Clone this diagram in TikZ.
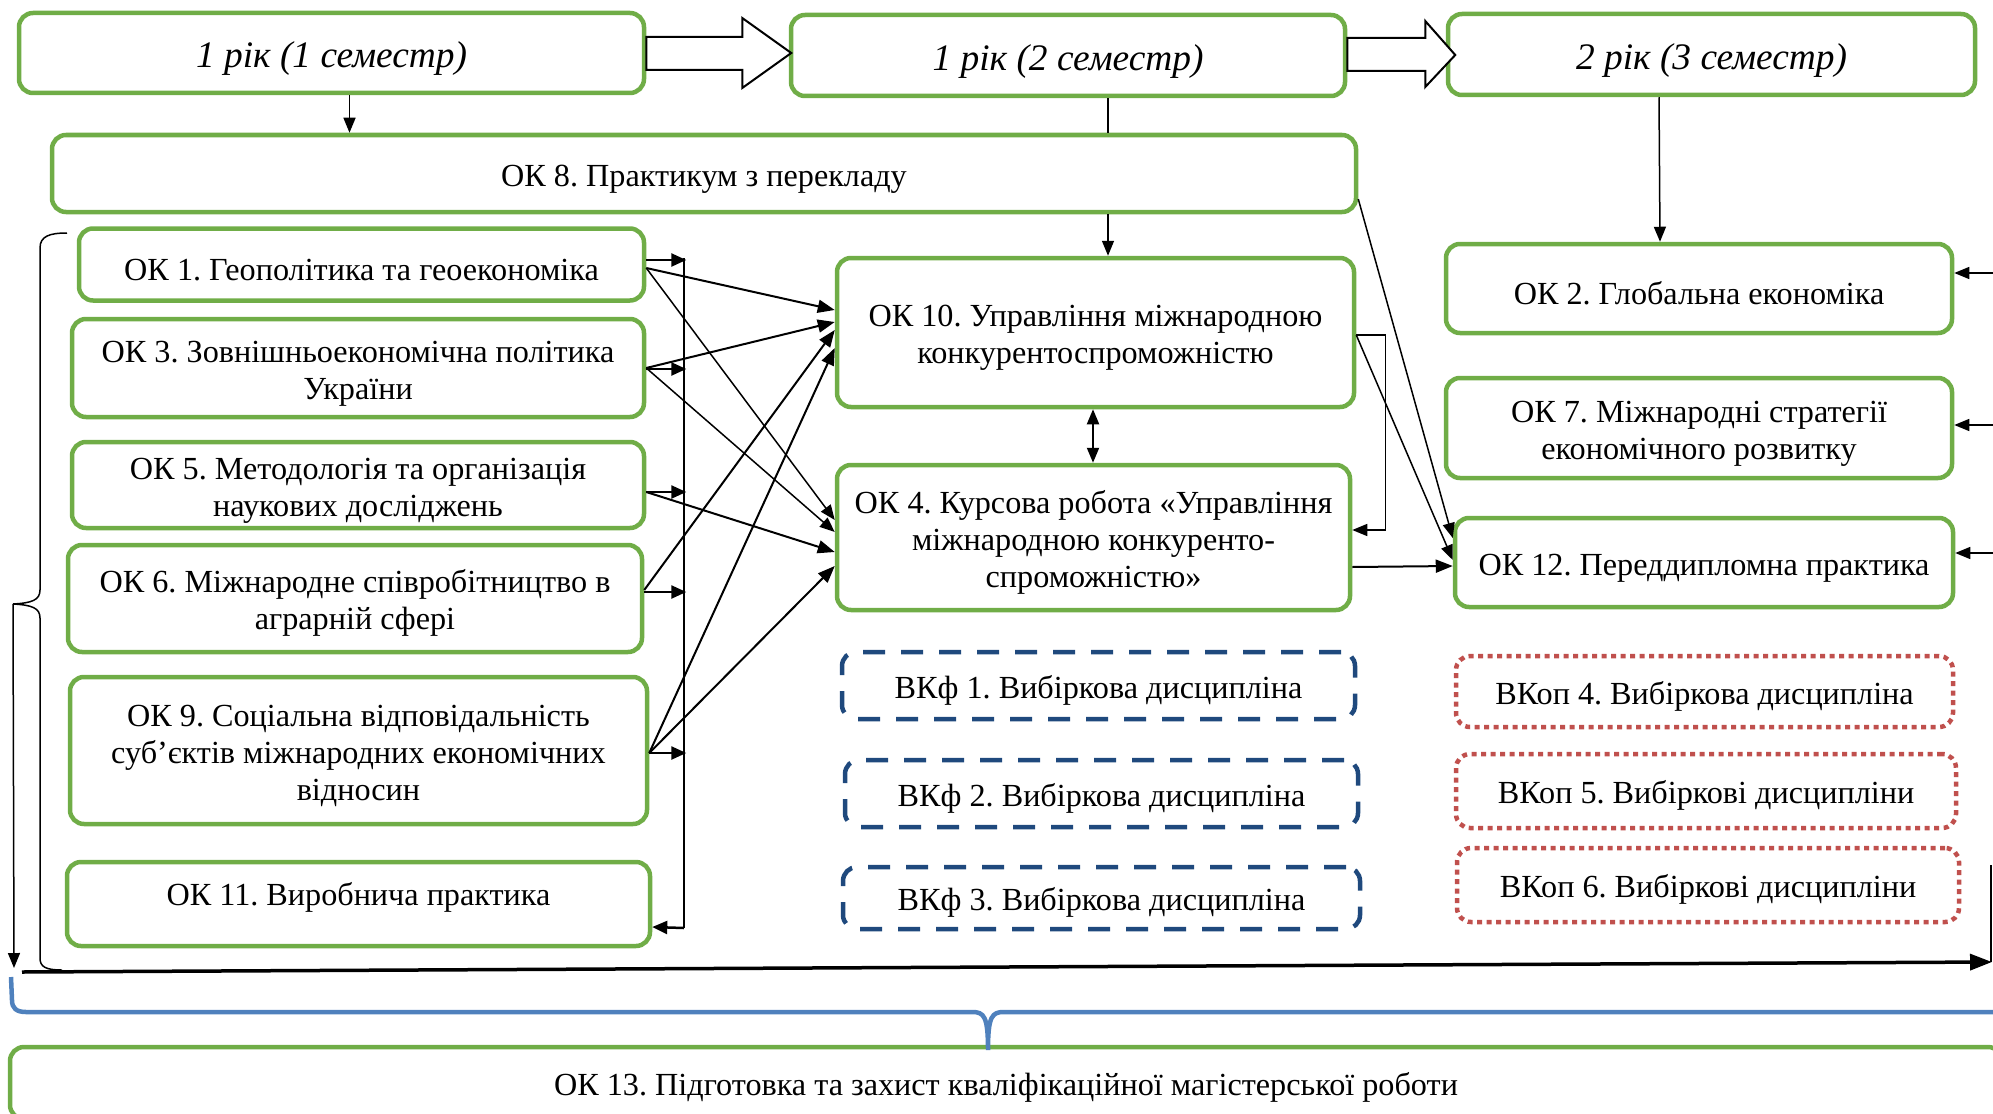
\documentclass[tikz,border=0pt]{standalone}
\usepackage{fontspec}
\setmainfont{Liberation Serif}
\usetikzlibrary{arrows.meta}
\definecolor{grn}{HTML}{70AD47}
\definecolor{dkb}{HTML}{1F497D}
\definecolor{rd}{HTML}{C0504D}
\definecolor{lb}{HTML}{4F81BD}
\newcommand\uprule{\rule{0pt}{1em}}
\begin{document}
\begin{tikzpicture}[x=1pt,y=-1pt,
  base/.style={align=center, inner sep=0pt, font=\fontsize{32.2}{37}\selectfont\frenchspacing, rounded corners=14pt,
    execute at begin node={\uprule}},
  gbox/.style={base, draw=grn, line width=4.5pt},
  hbox/.style={gbox, font=\fontsize{37.4}{42}\selectfont\itshape},
  vkf/.style={base, draw=dkb, line width=4.5pt, dash pattern=on 22pt off 16pt},
  vkop/.style={base, draw=rd, line width=4.5pt, dash pattern=on 5pt off 4.5pt},
  ar/.style={-{Triangle[length=17pt,width=13pt]}, line width=2pt},
  art/.style={-{Triangle[length=15pt,width=12pt]}, line width=1.5pt},
  stub/.style={-{Triangle[length=15pt,width=13pt]}, line width=2.5pt},
  ln/.style={line width=1.5pt},
  blockarr/.style={draw=black, fill=white, line width=2pt, line join=miter},
]
\useasboundingbox (0,0) rectangle (1993,1113);
\clip (0,0) rectangle (1993,1113);

% header boxes
\node[hbox, minimum width=625pt, minimum height=80pt] (H1) at (331.5,53) {1 рік (1 семестр)};
\node[hbox, minimum width=554pt, minimum height=81pt] (H2) at (1068,55.5) {1 рік (2 семестр)};
\node[hbox, minimum width=527pt, minimum height=81pt] (H3) at (1711.5,54.5) {2 рік (3 семестр)};

\node[gbox, minimum width=1304pt, minimum height=77pt] (OK8) at (704,173.5) {ОК 8. Практикум з перекладу};

% left column
\node[gbox, minimum width=565pt, minimum height=72pt] (OK1) at (361.5,264.5) {ОК 1. Геополітика та геоекономіка};
\node[gbox, minimum width=572pt, minimum height=98pt] (OK3) at (358,368) {\uprule ОК 3. Зовнішньоекономічна політика\\України};
\node[gbox, minimum width=572pt, minimum height=86pt] (OK5) at (358,485) {\uprule ОК 5. Методологія та організація\\наукових досліджень};
\node[gbox, minimum width=574pt, minimum height=107pt] (OK6) at (355,598.5) {\uprule ОК 6. Міжнародне співробітництво в\\аграрній сфері};
\node[gbox, minimum width=577pt, minimum height=147pt] (OK9) at (358.5,750.5) {\uprule ОК 9. Соціальна відповідальність\\суб’єктів міжнародних економічних\\відносин};
\node[gbox, minimum width=583pt, minimum height=84pt, text depth=30pt] (OK11) at (358.5,904) {ОК 11. Виробнича практика};

% middle column
\node[gbox, minimum width=517pt, minimum height=149pt] (OK10) at (1095.5,332.5) {\uprule ОК 10. Управління міжнародною\\конкурентоспроможністю};
\node[gbox, minimum width=513pt, minimum height=145pt] (OK4) at (1093.5,537.5) {\uprule ОК 4. Курсова робота «Управління\\міжнародною конкуренто-\\спроможністю»};
\node[vkf, minimum width=513pt, minimum height=67pt] (VKf1) at (1098.5,685.5) {ВКф 1. Вибіркова дисципліна};
\node[vkf, minimum width=513pt, minimum height=67pt] (VKf2) at (1101.5,793.5) {ВКф 2. Вибіркова дисципліна};
\node[vkf, minimum width=517pt, minimum height=62pt] (VKf3) at (1101.5,898) {ВКф 3. Вибіркова дисципліна};

% right column
\node[gbox, minimum width=506pt, minimum height=89pt] (OK2) at (1699,288.5) {ОК 2. Глобальна економіка};
\node[gbox, minimum width=506pt, minimum height=100pt] (OK7) at (1699,428) {\uprule ОК 7. Міжнародні стратегії\\економічного розвитку};
\node[gbox, minimum width=498pt, minimum height=89pt] (OK12) at (1704,562.5) {ОК 12. Переддипломна практика};
\node[vkop, minimum width=497pt, minimum height=71pt] (VKop4) at (1704.5,691.5) {ВКоп 4. Вибіркова дисципліна};
\node[vkop, minimum width=500pt, minimum height=74pt] (VKop5) at (1706,791) {ВКоп 5. Вибіркові дисципліни};
\node[vkop, minimum width=502pt, minimum height=74pt] (VKop6) at (1708,885) {ВКоп 6. Вибіркові дисципліни};

% bottom
\node[gbox, minimum width=1992pt, minimum height=72pt] (OK13) at (1006,1083) {ОК 13. Підготовка та захист кваліфікаційної магістерської роботи};

% block arrows
\draw[blockarr] ([yshift=16pt]H1.east) -- ++(96,0) -- ++(0,-19) -- ++(49,35) -- ++(-49,35) -- ++(0,-18) -- ([yshift=-17pt]H1.east) -- cycle;
\draw[blockarr] ([yshift=17.5pt]H2.east) -- ++(78,0) -- ++(0,-17) -- ++(30,34) -- ++(-30,32) -- ++(0,-16) -- ([yshift=-15.5pt]H2.east) -- cycle;

% vertical links from headers
\draw[art] ([xshift=18pt]H1.south) -- ([xshift=-354.5pt]OK8.north);
\draw[ln] ([xshift=40pt]H2.south) -- ([xshift=404pt]OK8.north);
\draw[art] ([xshift=404pt]OK8.south) -- ([xshift=12.5pt]OK10.north);
\draw[art] ([xshift=-52.5pt]H3.south) -- ([xshift=-39pt]OK2.north);

% bus
\coordinate (busTop) at (684,258);
\coordinate (busBot) at (684,928);
\draw[ln] (busTop) -- (busBot);
\draw[stub] ([yshift=4.5pt]OK1.east) -- ++(40,0);
\draw[stub] ([yshift=-1pt]OK3.east) -- ++(40,0);
\draw[stub] ([yshift=-7pt]OK5.east) -- ++(40,0);
\draw[stub] ([yshift=6.5pt]OK6.east) -- ++(42,0);
\draw[stub] ([yshift=-2.5pt]OK9.east) -- ++(37,0);
\draw[stub] (busBot) -- ([yshift=-23pt]OK11.east);

% diagonals
\draw[ar] ([yshift=-3.5pt]OK1.east) -- ([yshift=22.5pt]OK10.west);
\draw[art] ([yshift=-3.5pt]OK1.east) -- ([yshift=17.5pt]OK4.west);
\draw[ar] (OK3.east) -- ([yshift=10.5pt]OK10.west);
\draw[art] (OK3.east) -- ([yshift=5.5pt]OK4.west);
\draw[ar] ([yshift=-7pt]OK5.east) -- ([yshift=-14.5pt]OK4.west);
\draw[ar] ([yshift=8.5pt]OK6.east) -- ([yshift=2.5pt]OK10.west);
\draw[ar] ([yshift=-2.5pt]OK9.east) -- ([yshift=-15.5pt]OK10.west);
\draw[ar] ([yshift=-2.5pt]OK9.east) -- ([yshift=-28.5pt]OK4.west);

% middle / right links
\draw[ar, <->, >={Triangle[length=15pt,width=12pt]}] ([xshift=-2.5pt]OK10.south) -- ([xshift=-0.5pt]OK4.north);
\draw[art] ([yshift=-2.5pt]OK10.east) -- ++(29,0) |- ([yshift=7.5pt]OK4.east);
\draw[art] ([yshift=-25.5pt]OK8.east) -- ([yshift=24.5pt]OK12.west);
\draw[art] ([yshift=-2.5pt]OK10.east) -- ([yshift=2.5pt]OK12.west);
\draw[ar] ([yshift=-29.5pt]OK4.east) -- ([yshift=-3.5pt]OK12.west);

\coordinate (r2) at (1996,273);
\coordinate (r7) at (1996,425);
\coordinate (r12) at (1996,553);
\draw[art] (r2) -- ([yshift=15.5pt]OK2.east);
\draw[art] (r7) -- ([yshift=3pt]OK7.east);
\draw[art] (r12) -- ([yshift=9.5pt]OK12.east);

% left brace and bottom arrow
\coordinate (braceTip) at (13,604);
\draw[ln] (67,233) .. controls (50,233) and (40,236) .. (40,248) -- (40,590) .. controls (40,600) and (32,603) .. (braceTip);
\draw[ln] (braceTip) .. controls (32,605) and (40,608) .. (40,618) -- (40,958) .. controls (40,967) and (46,970) .. (62,970);
\draw[art] (braceTip) -- (14,968);
\coordinate (bl) at (22,972);
\coordinate (br) at (1992,962);
\coordinate (rt) at (1991,865);
\draw[-{Triangle[length=22pt,width=16pt]}, line width=3.5pt] (bl) -- (br);
\draw[ln] (rt) -- (1991,962);

% blue brace
\draw[lb, line width=4.5pt] (11,977) -- (12,1000) .. controls (12,1008) and (16,1012) .. (26,1012) -- (972,1012) .. controls (984,1012) and (988,1016) .. (988,1050) .. controls (988,1016) and (992,1012) .. (1004,1012) -- (2000,1012);
\end{tikzpicture}
\end{document}
